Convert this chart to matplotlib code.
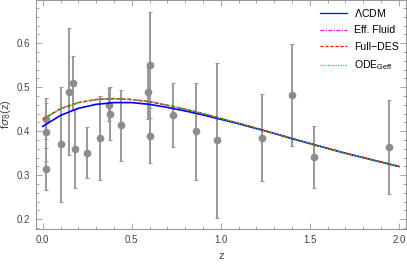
import matplotlib
matplotlib.use("Agg")
import matplotlib.pyplot as plt
from matplotlib.ticker import MultipleLocator
import numpy as np

plt.rcParams['font.family'] = ['Liberation Sans', 'DejaVu Sans']

# f*sigma8 data compilation (z, value, error)
z_data = [0.02, 0.02, 0.02, 0.10, 0.15, 0.17, 0.18, 0.38, 0.25, 0.37, 0.32,
          0.59, 0.44, 0.60, 0.73, 0.60, 0.86, 1.40, 0.978, 1.23, 1.526, 1.944]
fs8_data = [0.428, 0.398, 0.314, 0.370, 0.490, 0.510, 0.360, 0.440, 0.3512, 0.4602, 0.384,
            0.488, 0.413, 0.390, 0.437, 0.550, 0.400, 0.482, 0.379, 0.385, 0.342, 0.364]
fs8_err = [0.0465, 0.065, 0.048, 0.130, 0.145, 0.060, 0.090, 0.060, 0.0583, 0.0378, 0.095,
           0.060, 0.080, 0.063, 0.072, 0.120, 0.110, 0.116, 0.176, 0.099, 0.070, 0.106]

# model curves
z_curve = [0.0, 0.1, 0.2, 0.3, 0.4, 0.5, 0.6, 0.7, 0.8, 0.9, 1.0,
           1.1, 1.2, 1.3, 1.4, 1.5, 1.6, 1.7, 1.8, 1.9, 2.0]
lcdm = [0.411, 0.436, 0.452, 0.461, 0.465, 0.465, 0.461, 0.454, 0.446, 0.437, 0.427,
        0.417, 0.406, 0.395, 0.383, 0.372, 0.361, 0.350, 0.340, 0.330, 0.320]
eff_fluid = [0.427, 0.451, 0.465, 0.472, 0.474, 0.472, 0.467, 0.459, 0.450, 0.440, 0.429,
             0.418, 0.407, 0.395, 0.384, 0.372, 0.361, 0.350, 0.340, 0.330, 0.320]
full_des = eff_fluid
ode_geff = eff_fluid

fig = plt.figure(figsize=(4.07, 2.65), dpi=100)
ax = fig.add_axes([0.0885, 0.136, 0.909, 0.864])

ax.errorbar(z_data, fs8_data, yerr=fs8_err, fmt='o', color='#8c8c8c', ecolor='#999999',
            ms=4.5, elinewidth=1.4, capsize=1.6, capthick=0.8, zorder=1)

ax.plot(z_curve, lcdm, color='#0000ff', lw=1.2, label=r'$\Lambda$CDM', zorder=3)
ax.plot(z_curve, eff_fluid, color='#ff00ff', lw=1.0, ls='-.', dashes=(3, 1.2, 1, 1.2),
        label='Eff. Fluid', zorder=2)
ax.plot(z_curve, full_des, color='#ff0000', lw=1.0, ls='--', dashes=(2.5, 1.5),
        label='Full\u2212DES', zorder=4)
ax.plot(z_curve, ode_geff, color='#00ee00', lw=1.0, ls=':', dashes=(1, 1),
        label=r'ODE$_{\mathregular{Geff}}$', zorder=5)

ax.set_xlim(-0.038, 2.04)
ax.set_ylim(0.178, 0.698)
ax.xaxis.set_major_locator(MultipleLocator(0.5))
ax.xaxis.set_minor_locator(MultipleLocator(0.1))
ax.yaxis.set_major_locator(MultipleLocator(0.1))
ax.yaxis.set_minor_locator(MultipleLocator(0.02))
ax.xaxis.set_major_formatter(plt.FuncFormatter(lambda v, p: '%.1f' % v))
ax.yaxis.set_major_formatter(plt.FuncFormatter(lambda v, p: '%.1f' % v))

ax.tick_params(which='both', direction='in', top=True, right=True, color='#999999',
               labelcolor='#444444', labelsize=7, width=0.6, pad=4)
ax.tick_params(which='major', length=4)
ax.tick_params(which='minor', length=2)
for s in ax.spines.values():
    s.set_color('#999999')
    s.set_linewidth(0.8)

ax.set_xlabel('z', fontsize=8, color='#444444', labelpad=5)
ax.set_ylabel(r'f$\sigma_8$(z)', fontsize=8, color='#444444', labelpad=3)

leg = ax.legend(loc='upper right', frameon=False, fontsize=7.6, handlelength=2.5,
                handletextpad=0.7, labelspacing=0.62, borderaxespad=0.25)
for line in leg.get_lines():
    line.set_linewidth(0.9)

fig.savefig('out.png', dpi=100)
